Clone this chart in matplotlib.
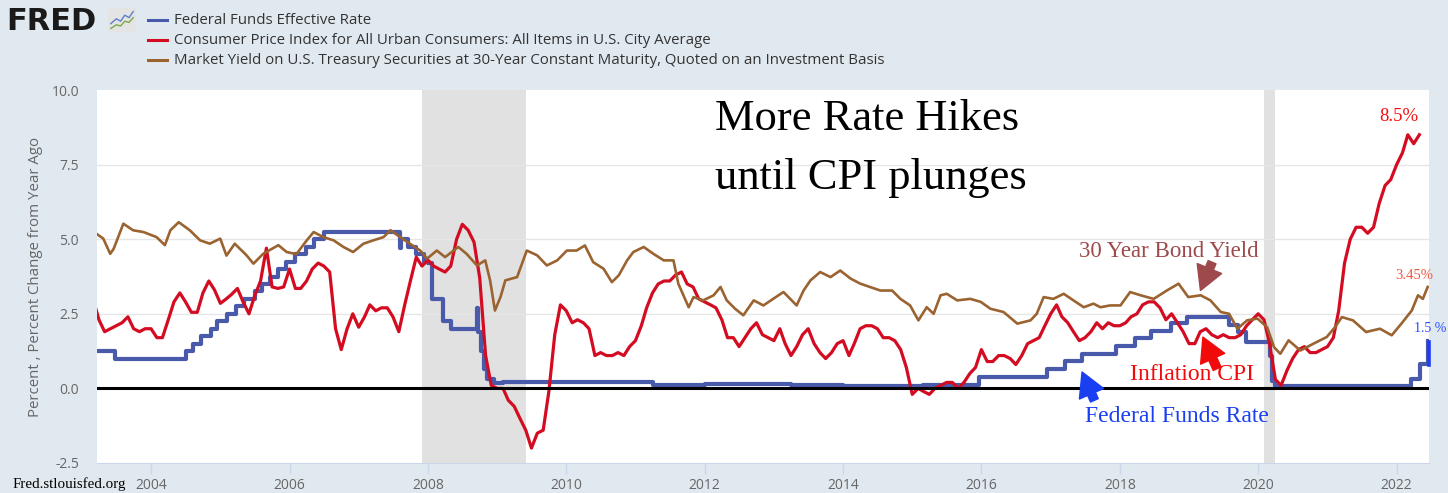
import matplotlib
matplotlib.use('Agg')
import matplotlib.pyplot as plt
import numpy as np
import pandas as pd
from matplotlib.lines import Line2D

# CPI, percent change from year ago, monthly from 2003-03 to 2022-05
cpi = [
    3.0, 2.3, 1.9, 2.0, 2.1, 2.2, 2.4, 2.0, 1.9, 2.0,                     # 2003
    2.0, 1.7, 1.7, 2.3, 2.9, 3.2, 2.9, 2.55, 2.55, 3.2, 3.6, 3.3,          # 2004
    2.85, 3.0, 3.15, 3.35, 2.9, 2.5, 3.1, 3.6, 4.7, 3.4, 3.35, 3.4,        # 2005
    4.0, 3.35, 3.35, 3.6, 4.0, 4.2, 4.1, 3.9, 2.0, 1.3, 2.0, 2.5,          # 2006
    2.05, 2.4, 2.8, 2.6, 2.7, 2.7, 2.4, 1.9, 2.8, 3.6, 4.4, 4.1,           # 2007
    4.3, 4.1, 4.0, 3.9, 4.1, 5.0, 5.5, 5.3, 4.9, 3.7, 1.1, 0.1,            # 2008
    0.0, 0.0, -0.4, -0.6, -1.0, -1.4, -2.0, -1.5, -1.4, -0.1, 1.8, 2.8,    # 2009
    2.6, 2.2, 2.3, 2.2, 2.0, 1.1, 1.2, 1.1, 1.1, 1.2, 1.1, 1.4,            # 2010
    1.6, 2.1, 2.7, 3.2, 3.5, 3.6, 3.6, 3.8, 3.9, 3.5, 3.4, 3.0,            # 2011
    2.9, 2.8, 2.7, 2.3, 1.7, 1.7, 1.4, 1.7, 2.0, 2.2, 1.8, 1.7,            # 2012
    1.6, 2.0, 1.5, 1.1, 1.4, 1.8, 2.0, 1.5, 1.2, 1.0, 1.2, 1.5,            # 2013
    1.6, 1.1, 1.5, 2.0, 2.1, 2.1, 2.0, 1.7, 1.7, 1.6, 1.3, 0.7,            # 2014
    -0.2, 0.0, -0.1, -0.2, 0.0, 0.1, 0.2, 0.2, 0.0, 0.2, 0.5, 0.7,         # 2015
    1.3, 0.9, 0.9, 1.1, 1.1, 1.0, 0.8, 1.1, 1.5, 1.6, 1.7, 2.1,            # 2016
    2.5, 2.8, 2.4, 2.2, 1.9, 1.6, 1.7, 1.9, 2.2, 2.0, 2.2, 2.1,            # 2017
    2.1, 2.2, 2.4, 2.5, 2.8, 2.9, 2.9, 2.7, 2.3, 2.5, 2.2, 1.9,            # 2018
    1.5, 1.5, 1.9, 2.0, 1.8, 1.7, 1.8, 1.7, 1.7, 1.8, 2.1, 2.3,            # 2019
    2.5, 2.3, 1.5, 0.3, 0.1, 0.6, 1.0, 1.3, 1.4, 1.2, 1.2, 1.3,            # 2020
    1.4, 1.7, 2.6, 4.2, 5.0, 5.4, 5.4, 5.2, 5.4, 6.2, 6.8, 7.0,            # 2021
    7.5, 7.9, 8.5, 8.2, 8.5,                                               # 2022
]
cpi_dates = pd.date_range('2003-03-01', periods=len(cpi), freq='MS')

# Federal funds effective rate, value from each date on
ff_dates = [
    '2003-03-01', '2003-06-26', '2004-07-01', '2004-08-11', '2004-09-22', '2004-11-11',
    '2004-12-15', '2005-02-03', '2005-03-23', '2005-05-04', '2005-07-01', '2005-08-10',
    '2005-09-21', '2005-11-02', '2005-12-14', '2006-01-31', '2006-03-29', '2006-05-11',
    '2006-06-30', '2007-08-09', '2007-08-14', '2007-09-19', '2007-11-01', '2007-12-12',
    '2008-01-03', '2008-01-22', '2008-01-31', '2008-03-19', '2008-04-30', '2008-09-16',
    '2008-09-20', '2008-10-08', '2008-10-22', '2008-11-10', '2008-12-16', '2009-02-01',
    '2011-04-01', '2012-01-01', '2013-04-01', '2014-01-01', '2015-03-01', '2015-12-17',
    '2016-12-15', '2017-03-16', '2017-06-15', '2017-12-14', '2018-03-22', '2018-06-14',
    '2018-09-27', '2018-12-20', '2019-08-01', '2019-09-19', '2019-10-31', '2020-03-04',
    '2020-03-16', '2020-04-01', '2022-03-17', '2022-05-05', '2022-06-16',
]
ff_rate = [
    1.25, 1.00, 1.25, 1.50, 1.75, 2.00,
    2.25, 2.50, 2.75, 3.00, 3.25, 3.50,
    3.75, 4.00, 4.25, 4.50, 4.75, 5.00,
    5.25, 4.70, 5.00, 4.75, 4.50, 4.25,
    4.20, 3.00, 3.00, 2.25, 2.00, 2.70,
    1.90, 1.25, 0.65, 0.30, 0.18, 0.20,
    0.10, 0.14, 0.12, 0.09, 0.13, 0.37,
    0.66, 0.91, 1.16, 1.42, 1.68, 1.91,
    2.18, 2.40, 2.13, 1.90, 1.55, 1.10,
    0.25, 0.07, 0.33, 0.83, 1.58,
]
ff_end = '2022-06-17'

# 30-year treasury yield (decimal year, percent)
bond_year = [
    2003.20, 2003.31, 2003.41, 2003.46, 2003.60, 2003.74, 2003.89, 2004.08, 2004.20, 2004.28,
    2004.40, 2004.56, 2004.71, 2004.85, 2005.00, 2005.09, 2005.21, 2005.38, 2005.48, 2005.62,
    2005.84, 2005.96, 2006.10, 2006.25, 2006.35, 2006.49, 2006.64, 2006.78, 2006.92, 2007.07,
    2007.21, 2007.36, 2007.46, 2007.60, 2007.74, 2007.89, 2007.99, 2008.13, 2008.25, 2008.44,
    2008.56, 2008.71, 2008.83, 2008.90, 2008.97, 2009.05, 2009.12, 2009.29, 2009.43, 2009.58,
    2009.72, 2009.87, 2010.01, 2010.15, 2010.27, 2010.39, 2010.54, 2010.66, 2010.76, 2010.88,
    2010.97, 2011.12, 2011.26, 2011.41, 2011.55, 2011.62, 2011.77, 2011.84, 2011.98, 2012.13,
    2012.23, 2012.32, 2012.44, 2012.56, 2012.71, 2012.85, 2012.99, 2013.14, 2013.33, 2013.43,
    2013.53, 2013.67, 2013.82, 2013.96, 2014.11, 2014.25, 2014.39, 2014.54, 2014.71, 2014.83,
    2014.97, 2015.09, 2015.21, 2015.31, 2015.41, 2015.50, 2015.65, 2015.84, 2015.99, 2016.13,
    2016.32, 2016.52, 2016.71, 2016.80, 2016.90, 2017.04, 2017.19, 2017.33, 2017.48, 2017.62,
    2017.72, 2017.86, 2018.01, 2018.15, 2018.30, 2018.49, 2018.68, 2018.85, 2018.99, 2019.17,
    2019.31, 2019.46, 2019.58, 2019.70, 2019.84, 2019.99, 2020.13, 2020.23, 2020.32, 2020.44,
    2020.61, 2020.80, 2020.99, 2021.11, 2021.21, 2021.37, 2021.56, 2021.76, 2021.93, 2022.07,
    2022.22, 2022.31, 2022.38, 2022.45,
]
bond_yield = [
    5.20, 5.02, 4.51, 4.68, 5.52, 5.30, 5.24, 5.07, 4.80, 5.30,
    5.57, 5.30, 4.96, 4.85, 5.02, 4.45, 4.85, 4.46, 4.18, 4.51,
    4.80, 4.57, 4.50, 4.96, 5.24, 5.07, 4.96, 4.74, 4.57, 4.85,
    4.96, 5.07, 5.30, 5.07, 4.85, 4.62, 4.35, 4.62, 4.40, 4.74,
    4.51, 4.12, 4.29, 3.62, 2.61, 3.06, 3.62, 3.73, 4.62, 4.46,
    4.12, 4.29, 4.62, 4.62, 4.79, 4.23, 4.01, 3.56, 3.79, 4.29,
    4.57, 4.74, 4.51, 4.29, 4.29, 3.51, 2.72, 3.06, 2.95, 3.12,
    3.40, 2.95, 2.67, 2.45, 2.95, 2.78, 3.00, 3.23, 2.78, 3.28,
    3.62, 3.90, 3.73, 3.95, 3.68, 3.51, 3.40, 3.28, 3.28, 3.00,
    2.78, 2.28, 2.72, 2.50, 3.12, 3.17, 2.95, 3.00, 2.90, 2.67,
    2.56, 2.17, 2.28, 2.50, 3.06, 3.00, 3.17, 2.95, 2.72, 2.84,
    2.72, 2.78, 2.78, 3.23, 3.12, 3.00, 3.28, 3.51, 3.06, 3.12,
    2.95, 2.56, 2.50, 2.00, 2.28, 2.34, 2.05, 1.38, 1.16, 1.61,
    1.27, 1.50, 1.72, 2.05, 2.39, 2.28, 1.89, 2.00, 1.78, 2.17,
    2.61, 3.12, 3.00, 3.40,
]

recessions = [('2007-12-01', '2009-06-01'), ('2020-02-01', '2020-04-01')]

legend_labels = [
    'Federal Funds Effective Rate',
    'Consumer Price Index for All Urban Consumers: All Items in U.S. City Average',
    'Market Yield on U.S. Treasury Securities at 30-Year Constant Maturity, Quoted on an Investment Basis',
]


def yr(y):
    return pd.Timestamp('2000-01-01') + pd.Timedelta(days=(y - 2000) * 365.25)


BG = '#e1e9f0'
C_FF = '#4a5aaa'
C_CPI = '#d40c22'
C_BOND = '#9a6330'
W, H = 1448, 493

plt.rcParams['font.family'] = ['Open Sans', 'DejaVu Sans']

fig = plt.figure(figsize=(W / 100, H / 100), dpi=100, facecolor=BG)
ax = fig.add_axes([97 / W, 30 / H, 1332 / W, 373 / H])
ax.set_facecolor('white')

for start, end in recessions:
    ax.axvspan(pd.Timestamp(start), pd.Timestamp(end), color='#e1e1e1', lw=0, zorder=0)

for v in [2.5, 5.0, 7.5]:
    ax.axhline(v, color='#e6e6e6', lw=1.0, zorder=0.5)

ff_x = pd.to_datetime(ff_dates + [ff_end])
ff_y = ff_rate + [ff_rate[-1]]
ax.plot(ff_x, ff_y, drawstyle='steps-post', color=C_FF, lw=3.0, zorder=2)
ax.plot(cpi_dates, cpi, color=C_CPI, lw=2.3, zorder=3)
ax.plot([yr(y) for y in bond_year], bond_yield, color=C_BOND, lw=1.9, zorder=4)
ax.axhline(0, color='black', lw=2.2, zorder=5)

# last fed funds jump, marked outside the frame
ax.plot([pd.Timestamp(ff_dates[-1]) + pd.Timedelta(days=7)] * 2, [ff_rate[-2] - 0.06, ff_rate[-1] - 0.03],
        color='#1f3cf5', lw=2.6, clip_on=False, zorder=6)

ax.set_xlim(yr(2003.219), yr(2022.469))
ax.set_ylim(-2.5, 10)
ax.set_yticks([-2.5, 0, 2.5, 5, 7.5, 10])
ax.set_yticklabels(['-2.5', '0.0', '2.5', '5.0', '7.5', '10.0'])
years = list(range(2004, 2023, 2))
ax.set_xticks([pd.Timestamp(f'{y}-01-01') for y in years])
ax.set_xticklabels([str(y) for y in years])
ax.tick_params(axis='y', length=0, pad=13, labelsize=10, labelcolor='#666666')
ax.tick_params(axis='x', length=8, width=1, color='#ccd6eb', pad=3, labelsize=10, labelcolor='#666666')
for side in ['left', 'right', 'top']:
    ax.spines[side].set_visible(False)
ax.spines['bottom'].set_color('#ccd6eb')
ax.set_ylabel('Percent , Percent Change from Year Ago', color='#666666', fontsize=10.8, labelpad=6)

# annotations
serif = 'Liberation Serif'
ax.text(yr(2012.15), 8.65, 'More Rate Hikes', family=serif, fontsize=32, color='black', va='baseline', zorder=7)
ax.text(yr(2012.15), 6.69, 'until CPI plunges', family=serif, fontsize=32, color='black', va='baseline', zorder=7)
ax.text(yr(2017.406), 4.40, '30 Year Bond Yield', family=serif, fontsize=16.5, color='#9e4a4c', va='baseline', zorder=7)
ax.text(yr(2018.153), 0.27, 'Inflation CPI', family=serif, fontsize=17, color='#f00a0a', va='baseline', zorder=7)
ax.text(yr(2017.496), -1.12, 'Federal Funds Rate', family=serif, fontsize=17, color='#1a3ff0', va='baseline', zorder=7)
ax.text(yr(2022.033), 8.95, '8.5%', family=serif, fontsize=13.5, color='#f01010', ha='center', va='baseline', zorder=7)
ax.text(yr(2022.26), 3.67, '3.45%', family=serif, fontsize=10.5, color='#ee5a40', ha='center', va='baseline', zorder=7)
ax.text(yr(2022.25), 1.89, '1.5 %', family=serif, fontsize=10, color='#2a4cff', ha='left', va='baseline',
        zorder=7, clip_on=False)

arrow = 'simple,head_length=0.9,head_width=1.0,tail_width=0.32'
for tail, head, col in [((2019.334, 4.23), (2019.166, 3.28), '#9e4a4c'),
                        ((2019.407, 0.66), (2019.202, 1.72), '#f00a0a'),
                        ((2017.633, -0.40), (2017.455, 0.55), '#1a3ff0')]:
    ax.annotate('', xy=(yr(head[0]), head[1]), xytext=(yr(tail[0]), tail[1]),
                arrowprops=dict(arrowstyle=arrow, color=col, mutation_scale=19, shrinkA=0, shrinkB=0), zorder=7)

fig.text(13 / W, 1 - 484 / H, 'Fred.stlouisfed.org', family=serif, fontsize=10.8, color='black', va='center')

# FRED logo and legend
fig.text(6 / W, 1 - 21 / H, 'FRED', family='DejaVu Sans', fontweight='bold', fontsize=22, color='#1a1a1a', va='center')
icon = fig.add_axes([108 / W, 1 - 32 / H, 28 / W, 24 / H])
icon.set_facecolor('#e4e4e4')
icon.plot([0.1, 0.3, 0.45, 0.6, 0.75, 0.9], [0.35, 0.55, 0.45, 0.7, 0.6, 0.85], color='#5b7fc9', lw=1)
icon.plot([0.1, 0.3, 0.45, 0.6, 0.75, 0.9], [0.15, 0.3, 0.25, 0.45, 0.4, 0.6], color='#7aa84a', lw=1)
icon.set_xlim(0, 1)
icon.set_ylim(0, 1)
icon.set_xticks([])
icon.set_yticks([])
for s in icon.spines.values():
    s.set_visible(False)

for y_px, col, label in zip([20, 40, 60], [C_FF, C_CPI, C_BOND], legend_labels):
    yf = 1 - y_px / H
    fig.add_artist(Line2D([148 / W, 167 / W], [yf, yf], color=col, lw=2.2))
    fig.text(174 / W, yf, label, fontsize=10.8, color='#333333', va='center')

fig.savefig('out.png', dpi=100, facecolor=BG)
